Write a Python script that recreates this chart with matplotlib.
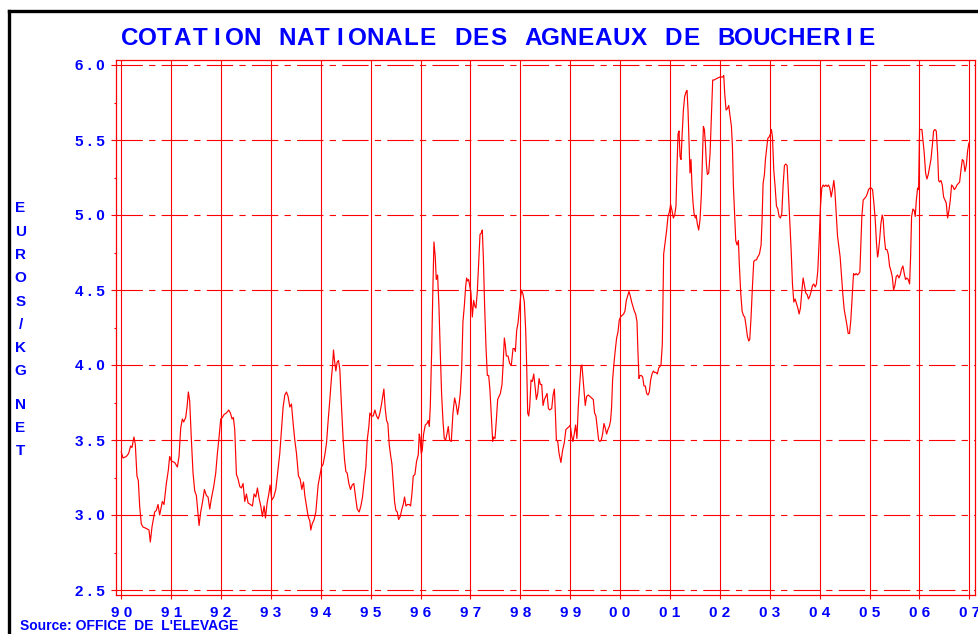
import matplotlib
matplotlib.use("Agg")
import matplotlib.pyplot as plt
import numpy as np
from matplotlib.lines import Line2D

plt.rcParams['lines.scale_dashes'] = False

# ---------------- data (weekly quotation) ----------------
t_1990_93 = [1990.000, 1990.033, 1990.100, 1990.147, 1990.187, 1990.214, 1990.254, 1990.281, 1990.314, 1990.341,
             1990.368, 1990.401, 1990.435, 1990.502, 1990.555, 1990.582, 1990.615, 1990.669, 1990.702, 1990.736,
             1990.769, 1990.823, 1990.856, 1990.903, 1990.943, 1990.970, 1991.003, 1991.070, 1991.124, 1991.157,
             1991.191, 1991.224, 1991.251, 1991.291, 1991.318, 1991.344, 1991.371, 1991.405, 1991.438, 1991.472,
             1991.505, 1991.532, 1991.559, 1991.592, 1991.625, 1991.666, 1991.706, 1991.739, 1991.773, 1991.806,
             1991.853, 1991.893, 1991.926, 1991.960, 1991.993, 1992.027, 1992.060, 1992.107, 1992.154, 1992.187,
             1992.221, 1992.247, 1992.274, 1992.308, 1992.341, 1992.375, 1992.408, 1992.441, 1992.475, 1992.508,
             1992.542, 1992.589, 1992.629, 1992.662, 1992.696, 1992.729, 1992.763, 1992.796, 1992.829, 1992.863,
             1992.890, 1992.923, 1992.957, 1992.983, 1993.017, 1993.057, 1993.097, 1993.130, 1993.177, 1993.211,
             1993.244, 1993.278, 1993.311, 1993.344, 1993.378, 1993.411, 1993.445, 1993.478, 1993.512, 1993.552,
             1993.585, 1993.619, 1993.652, 1993.679, 1993.712, 1993.746, 1993.779, 1993.799, 1993.826, 1993.866,
             1993.900]
v_1990_93 = [3.42, 3.38, 3.39, 3.41, 3.46, 3.45, 3.52, 3.47, 3.26, 3.23,
             3.06, 2.94, 2.92, 2.91, 2.90, 2.82, 2.92, 3.02, 3.03, 3.07,
             3.00, 3.09, 3.07, 3.21, 3.30, 3.39, 3.36, 3.35, 3.32, 3.39,
             3.58, 3.64, 3.62, 3.65, 3.72, 3.82, 3.76, 3.50, 3.28, 3.16,
             3.13, 3.03, 2.93, 3.02, 3.08, 3.17, 3.13, 3.12, 3.04, 3.11,
             3.19, 3.28, 3.41, 3.52, 3.64, 3.65, 3.67, 3.68, 3.70, 3.68,
             3.64, 3.65, 3.57, 3.27, 3.24, 3.19, 3.18, 3.21, 3.09, 3.14,
             3.08, 3.07, 3.06, 3.14, 3.12, 3.18, 3.11, 3.06, 2.99, 3.06,
             2.98, 3.08, 3.14, 3.20, 3.10, 3.12, 3.17, 3.27, 3.41, 3.57,
             3.72, 3.80, 3.82, 3.79, 3.72, 3.74, 3.61, 3.50, 3.41, 3.26,
             3.24, 3.17, 3.22, 3.13, 3.06, 2.99, 2.96, 2.90, 2.94, 2.97,
             3.02]

t_1994_95 = [1993.946, 1993.980, 1994.013, 1994.047, 1994.080, 1994.114, 1994.147, 1994.181, 1994.214, 1994.234,
             1994.254, 1994.274, 1994.301, 1994.328, 1994.355, 1994.381, 1994.415, 1994.448, 1994.475, 1994.502,
             1994.528, 1994.562, 1994.595, 1994.629, 1994.662, 1994.696, 1994.729, 1994.769, 1994.803, 1994.836,
             1994.870, 1994.903, 1994.930, 1994.963, 1994.983, 1995.017, 1995.050, 1995.084, 1995.117, 1995.151,
             1995.184, 1995.217, 1995.244, 1995.264, 1995.291, 1995.318, 1995.344, 1995.371, 1995.398, 1995.425,
             1995.452, 1995.478, 1995.505, 1995.532, 1995.559, 1995.592, 1995.625, 1995.652, 1995.679, 1995.706,
             1995.739, 1995.773, 1995.799, 1995.826, 1995.853, 1995.886, 1995.920, 1995.953, 1995.973]
v_1994_95 = [3.20, 3.26, 3.32, 3.34, 3.40, 3.48, 3.63, 3.77, 3.92, 3.99,
             4.10, 4.03, 3.96, 4.02, 4.03, 3.97, 3.72, 3.50, 3.37, 3.29,
             3.28, 3.21, 3.17, 3.20, 3.21, 3.12, 3.04, 3.02, 3.06, 3.12,
             3.23, 3.32, 3.50, 3.59, 3.68, 3.66, 3.66, 3.70, 3.66, 3.64,
             3.68, 3.74, 3.80, 3.84, 3.71, 3.63, 3.61, 3.47, 3.40, 3.34,
             3.21, 3.09, 3.03, 3.02, 2.97, 2.99, 3.04, 3.07, 3.12, 3.06,
             3.07, 3.07, 3.06, 3.14, 3.26, 3.27, 3.36, 3.40, 3.54]

t_1996_98 = [1995.987, 1996.013, 1996.033, 1996.060, 1996.094, 1996.127, 1996.154, 1996.174, 1996.194, 1996.221,
             1996.247, 1996.268, 1996.294, 1996.314, 1996.341, 1996.368, 1996.395, 1996.421, 1996.448, 1996.475,
             1996.502, 1996.528, 1996.555, 1996.582, 1996.615, 1996.649, 1996.682, 1996.716, 1996.742, 1996.769,
             1996.796, 1996.823, 1996.849, 1996.876, 1996.903, 1996.923, 1996.943, 1996.963, 1996.983, 1997.010,
             1997.037, 1997.064, 1997.090, 1997.110, 1997.137, 1997.164, 1997.191, 1997.217, 1997.237, 1997.258,
             1997.284, 1997.311, 1997.338, 1997.365, 1997.391, 1997.418, 1997.445, 1997.465, 1997.492, 1997.518,
             1997.545, 1997.572, 1997.599, 1997.632, 1997.652, 1997.679, 1997.699, 1997.719, 1997.753, 1997.786,
             1997.819, 1997.853, 1997.880, 1997.900, 1997.926, 1997.953, 1997.980, 1998.007, 1998.027, 1998.054,
             1998.080, 1998.107, 1998.127, 1998.147, 1998.167, 1998.187, 1998.214, 1998.241, 1998.268, 1998.294,
             1998.321, 1998.348, 1998.375, 1998.401, 1998.428, 1998.455, 1998.482, 1998.508, 1998.535, 1998.562,
             1998.589, 1998.629, 1998.656, 1998.682, 1998.702, 1998.722, 1998.749, 1998.776]
v_1996_98 = [3.52, 3.41, 3.43, 3.54, 3.60, 3.61, 3.63, 3.59, 3.72, 4.08,
             4.52, 4.82, 4.72, 4.57, 4.60, 4.39, 4.08, 3.81, 3.63, 3.51,
             3.50, 3.54, 3.59, 3.50, 3.49, 3.68, 3.78, 3.73, 3.67, 3.73,
             3.81, 3.97, 4.29, 4.39, 4.52, 4.58, 4.56, 4.57, 4.53, 4.48,
             4.32, 4.43, 4.39, 4.38, 4.49, 4.68, 4.87, 4.88, 4.90, 4.72,
             4.39, 4.12, 3.93, 3.93, 3.83, 3.66, 3.49, 3.52, 3.51, 3.63,
             3.77, 3.79, 3.81, 3.87, 3.99, 4.18, 4.13, 4.06, 4.06, 4.01,
             4.00, 4.11, 4.11, 4.09, 4.23, 4.28, 4.37, 4.46, 4.50, 4.47,
             4.42, 4.23, 3.99, 3.68, 3.66, 3.72, 3.90, 3.89, 3.94, 3.86,
             3.77, 3.81, 3.91, 3.87, 3.87, 3.73, 3.77, 3.79, 3.81, 3.71,
             3.70, 3.71, 3.80, 3.84, 3.68, 3.50, 3.49, 3.41]

t_1999_00 = [1998.813, 1998.846, 1998.880, 1998.913, 1998.946, 1998.980, 1999.000, 1999.027, 1999.054, 1999.080,
             1999.107, 1999.134, 1999.161, 1999.187, 1999.214, 1999.234, 1999.254, 1999.281, 1999.301, 1999.328,
             1999.361, 1999.395, 1999.428, 1999.462, 1999.488, 1999.515, 1999.542, 1999.569, 1999.595, 1999.622,
             1999.649, 1999.676, 1999.702, 1999.729, 1999.756, 1999.783, 1999.809, 1999.829, 1999.849, 1999.876,
             1999.903, 1999.930, 1999.957, 1999.983, 2000.010, 2000.037, 2000.070, 2000.097, 2000.124, 2000.151,
             2000.177, 2000.204, 2000.231, 2000.258, 2000.284, 2000.311, 2000.338, 2000.358, 2000.378, 2000.398,
             2000.425, 2000.452, 2000.478, 2000.505, 2000.532, 2000.559, 2000.585, 2000.612, 2000.639, 2000.666,
             2000.692, 2000.719, 2000.746, 2000.773, 2000.799]
v_1999_00 = [3.35, 3.43, 3.48, 3.57, 3.58, 3.59, 3.60, 3.53, 3.49, 3.54,
             3.60, 3.51, 3.72, 3.86, 3.99, 4.00, 3.92, 3.81, 3.73, 3.79,
             3.80, 3.79, 3.78, 3.77, 3.68, 3.66, 3.58, 3.50, 3.49, 3.50,
             3.54, 3.61, 3.58, 3.54, 3.57, 3.59, 3.63, 3.72, 3.90, 4.01,
             4.10, 4.18, 4.22, 4.30, 4.32, 4.33, 4.34, 4.36, 4.43, 4.46,
             4.49, 4.46, 4.42, 4.39, 4.36, 4.34, 4.29, 4.08, 3.91, 3.93,
             3.93, 3.92, 3.86, 3.86, 3.81, 3.80, 3.82, 3.90, 3.94, 3.96,
             3.95, 3.95, 3.94, 3.98, 3.99]

t_2001_02 = [2000.819, 2000.846, 2000.873, 2000.906, 2000.933, 2000.960, 2000.987, 2001.013, 2001.040, 2001.067,
             2001.094, 2001.120, 2001.140, 2001.161, 2001.181, 2001.201, 2001.221, 2001.241, 2001.268, 2001.294,
             2001.321, 2001.341, 2001.361, 2001.381, 2001.401, 2001.421, 2001.441, 2001.462, 2001.482, 2001.508,
             2001.528, 2001.548, 2001.575, 2001.602, 2001.629, 2001.649, 2001.669, 2001.689, 2001.709, 2001.729,
             2001.749, 2001.776, 2001.803, 2001.829, 2001.856, 2001.883, 2001.936, 2002.003, 2002.057, 2002.077,
             2002.097, 2002.124, 2002.151, 2002.177, 2002.204, 2002.231, 2002.251, 2002.271, 2002.298, 2002.318,
             2002.344, 2002.371, 2002.391, 2002.418, 2002.445, 2002.472, 2002.498, 2002.525, 2002.552, 2002.579,
             2002.599, 2002.625, 2002.652, 2002.679, 2002.706, 2002.732, 2002.759, 2002.793]
v_2001_02 = [4.00, 4.14, 4.74, 4.83, 4.90, 4.99, 5.02, 5.07, 5.03, 4.98,
             5.00, 5.06, 5.32, 5.54, 5.56, 5.39, 5.37, 5.52, 5.70, 5.79,
             5.82, 5.83, 5.70, 5.48, 5.28, 5.37, 5.19, 5.08, 5.01, 4.98,
             4.99, 4.94, 4.90, 4.97, 5.14, 5.37, 5.59, 5.57, 5.48, 5.34,
             5.27, 5.28, 5.41, 5.66, 5.90, 5.90, 5.91, 5.92, 5.92, 5.93,
             5.81, 5.70, 5.71, 5.73, 5.66, 5.59, 5.46, 5.19, 4.99, 4.83,
             4.80, 4.83, 4.66, 4.48, 4.36, 4.33, 4.32, 4.26, 4.19, 4.16,
             4.17, 4.32, 4.52, 4.69, 4.70, 4.70, 4.72, 4.74]

t_2003_05 = [2002.826, 2002.846, 2002.866, 2002.893, 2002.913, 2002.933, 2002.960, 2002.987, 2003.013, 2003.033,
             2003.054, 2003.080, 2003.107, 2003.134, 2003.161, 2003.187, 2003.214, 2003.241, 2003.268, 2003.294,
             2003.321, 2003.348, 2003.375, 2003.401, 2003.428, 2003.455, 2003.482, 2003.508, 2003.535, 2003.562,
             2003.589, 2003.615, 2003.642, 2003.669, 2003.696, 2003.722, 2003.749, 2003.776, 2003.803, 2003.829,
             2003.856, 2003.883, 2003.910, 2003.936, 2003.963, 2003.990, 2004.017, 2004.043, 2004.070, 2004.097,
             2004.124, 2004.151, 2004.177, 2004.204, 2004.231, 2004.258, 2004.284, 2004.304, 2004.331, 2004.358,
             2004.385, 2004.411, 2004.438, 2004.465, 2004.492, 2004.518, 2004.545, 2004.572, 2004.599, 2004.625,
             2004.652, 2004.679, 2004.706, 2004.732, 2004.759, 2004.786, 2004.806, 2004.826, 2004.846, 2004.873,
             2004.900, 2004.926, 2004.953, 2004.980, 2005.007, 2005.033, 2005.060, 2005.087, 2005.114, 2005.140,
             2005.161]
v_2003_05 = [4.80, 4.97, 5.21, 5.27, 5.37, 5.43, 5.51, 5.52, 5.54, 5.57,
             5.52, 5.30, 5.19, 5.06, 5.04, 4.99, 4.98, 5.01, 5.20, 5.33,
             5.34, 5.33, 5.14, 4.97, 4.77, 4.54, 4.42, 4.44, 4.41, 4.38,
             4.34, 4.38, 4.49, 4.58, 4.53, 4.48, 4.47, 4.44, 4.46, 4.49,
             4.53, 4.54, 4.52, 4.54, 4.63, 4.83, 5.06, 5.18, 5.20, 5.19,
             5.20, 5.19, 5.20, 5.18, 5.12, 5.17, 5.23, 5.17, 5.01, 4.86,
             4.79, 4.72, 4.59, 4.47, 4.37, 4.32, 4.27, 4.21, 4.21, 4.30,
             4.46, 4.61, 4.60, 4.61, 4.60, 4.61, 4.62, 4.81, 4.99, 5.10,
             5.11, 5.12, 5.14, 5.17, 5.18, 5.18, 5.17, 5.08, 4.97, 4.81,
             4.72]

t_2005_06 = [2005.174, 2005.201, 2005.227, 2005.254, 2005.274, 2005.294, 2005.321, 2005.348, 2005.375, 2005.401,
             2005.428, 2005.455, 2005.482, 2005.508, 2005.535, 2005.562, 2005.589, 2005.615, 2005.642, 2005.669,
             2005.696, 2005.722, 2005.749, 2005.776, 2005.803, 2005.823, 2005.843, 2005.870, 2005.896, 2005.916,
             2005.936, 2005.963, 2005.983, 2006.003, 2006.023, 2006.050, 2006.070, 2006.097, 2006.124, 2006.151,
             2006.177, 2006.204, 2006.231, 2006.258, 2006.284, 2006.311, 2006.338, 2006.365, 2006.385, 2006.405,
             2006.431, 2006.458, 2006.485, 2006.512, 2006.538, 2006.565, 2006.592, 2006.619, 2006.645, 2006.672,
             2006.699, 2006.726, 2006.753, 2006.779, 2006.806, 2006.833, 2006.860, 2006.886, 2006.913, 2006.940,
             2006.967, 2006.993]
v_2005_06 = [4.74, 4.83, 4.94, 5.00, 4.97, 4.86, 4.77, 4.77, 4.74, 4.66,
             4.63, 4.59, 4.50, 4.53, 4.59, 4.60, 4.58, 4.60, 4.64, 4.66,
             4.61, 4.57, 4.58, 4.57, 4.54, 4.72, 4.99, 5.04, 5.03, 4.99,
             5.09, 5.18, 5.17, 5.57, 5.57, 5.57, 5.50, 5.41, 5.28, 5.24,
             5.27, 5.32, 5.37, 5.46, 5.56, 5.57, 5.56, 5.41, 5.23, 5.22,
             5.23, 5.20, 5.12, 5.10, 5.08, 4.98, 5.03, 5.10, 5.20, 5.19,
             5.17, 5.18, 5.20, 5.21, 5.22, 5.30, 5.37, 5.36, 5.29, 5.33,
             5.43, 5.48]

year_ticks = list(range(1990, 2008))
year_labels = ['9 0', '9 1', '9 2', '9 3', '9 4', '9 5', '9 6', '9 7', '9 8', '9 9',
               '0 0', '0 1', '0 2', '0 3', '0 4', '0 5', '0 6', '0 7']
price_ticks = [2.5, 3.0, 3.5, 4.0, 4.5, 5.0, 5.5, 6.0]
price_labels = ['2 . 5', '3 . 0', '3 . 5', '4 . 0', '4 . 5', '5 . 0', '5 . 5', '6 . 0']

title_text = "COTATION NATIONALE DES AGNEAUX DE BOUCHERIE"
ylabel_text = "EUROS/KG NET"
source_text = "Source: OFFICE  DE  L'ELEVAGE"

t = np.concatenate([t_1990_93, t_1994_95, t_1996_98, t_1999_00, t_2001_02, t_2003_05, t_2005_06])
v = np.concatenate([v_1990_93, v_1994_95, v_1996_98, v_1999_00, v_2001_02, v_2003_05, v_2005_06])

# ---------------- figure ----------------
W, H = 979, 634
fig = plt.figure(figsize=(W / 100, H / 100), dpi=100)
fig.patch.set_facecolor('white')

def fx(px):
    return px / W

def fy(py):
    return 1 - py / H

BLUE = '#0000ff'
RED = '#ff0000'
narrow = ['Liberation Sans Narrow', 'Liberation Sans', 'DejaVu Sans']
sans = ['Liberation Sans', 'DejaVu Sans']

# outer black border (continues beyond right / bottom edges)
fig.add_artist(Line2D([fx(9), fx(9)], [fy(11), fy(700)], color='black', lw=2.4,
                      transform=fig.transFigure, solid_capstyle='projecting'))
fig.add_artist(Line2D([fx(9), fx(1100)], [fy(11), fy(11)], color='black', lw=2.4,
                      transform=fig.transFigure, solid_capstyle='projecting'))

# axes: frame from px 116..975 horizontally, 60..595 vertically
ax = fig.add_axes([fx(116), fy(595), fx(975) - fx(116), fy(60) - fy(595)])
yw = (969.3 - 121.3) / 17.0
ax.set_xlim(1990 - 5.3 / yw, 2007 + 5.7 / yw)
ax.set_ylim(2.5 - 5 / 150.0, 6.0 + 5 / 150.0)

for s in ax.spines.values():
    s.set_color(RED)
    s.set_linewidth(0.9)

# grid
for yr in year_ticks:
    ax.axvline(yr, color=RED, lw=0.8, zorder=1)
for p in price_ticks:
    ax.axhline(p, color=RED, lw=0.8, zorder=1, linestyle=(0, (19, 4.5, 4.5, 4.5)))

ax.plot(t, v, color=RED, lw=0.85, zorder=3)

ax.set_xticks(year_ticks)
ax.set_xticklabels(year_labels)
ax.set_yticks(price_ticks)
ax.set_yticklabels(price_labels)
ax.set_yticks(np.arange(2.75, 6.0, 0.5), minor=True)
ax.tick_params(axis='both', which='major', direction='out', color=RED, width=0.8,
               labelcolor=BLUE, labelsize=11)
ax.tick_params(axis='x', which='major', length=3.2, pad=4.5)
ax.tick_params(axis='y', which='major', length=3.5, pad=4.5)
ax.tick_params(axis='y', which='minor', length=1.6, color=RED, width=0.8)
for lab in ax.get_xticklabels() + ax.get_yticklabels():
    lab.set_fontfamily(sans)
    lab.set_fontweight('bold')

# title: evenly spaced characters
x0, x1 = 129.5, 866.5
step = (x1 - x0) / (len(title_text) - 1)
for i, ch in enumerate(title_text):
    if ch != ' ':
        fig.text(fx(x0 + i * step), fy(38.5), ch, color=BLUE, fontsize=17.5, fontweight='bold',
                 family=narrow, ha='center', va='center')

# vertical stacked y label
yy = 208.3
for ch in ylabel_text:
    if ch == ' ':
        yy += 10.0
        continue
    fig.text(fx(20.5), fy(yy), ch, color=BLUE, fontsize=11, fontweight='bold',
             family=sans, ha='center', va='center')
    yy += 23.3

# source line at the very bottom edge
fig.text(fx(20), fy(633.5), source_text, color=BLUE, fontsize=10, fontweight='bold',
         family=sans, ha='left', va='bottom')

fig.savefig('out.png', dpi=100, facecolor='white')
